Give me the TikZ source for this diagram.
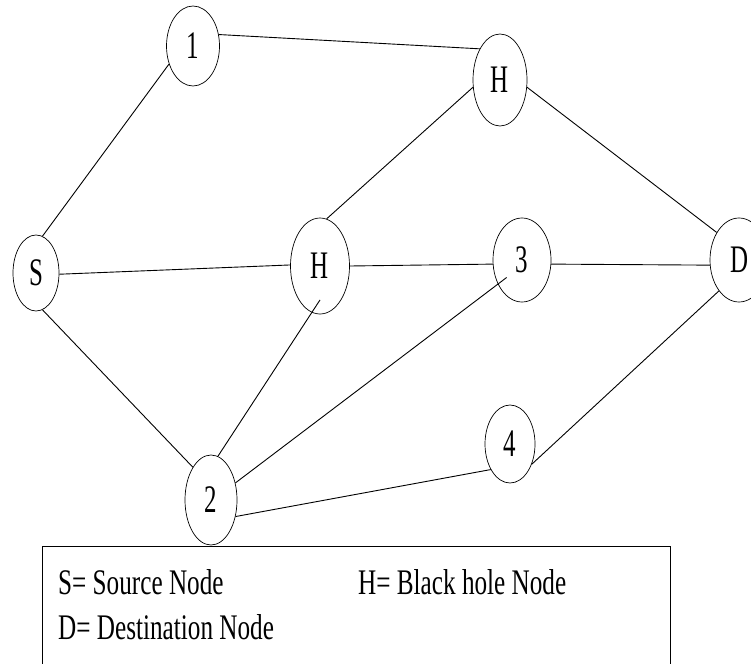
\documentclass[tikz,border=0pt]{standalone}
\usepackage{fontspec}
\setmainfont{Liberation Serif}[FakeStretch=0.64]
\newfontfamily\legfont{Liberation Serif}[FakeStretch=0.7]
\usetikzlibrary{shapes.geometric}
\tikzset{
  nd/.style={ellipse, draw, line width=0.7pt, inner sep=0pt, font=\fontsize{39}{39}\selectfont},
  edge/.style={line width=0.9pt},
  legtext/.style={anchor=west, inner sep=0pt, font=\legfont\fontsize{36}{36}\selectfont}
}
\begin{document}
\begin{tikzpicture}[x=1pt,y=-1pt]
\clip (0,0) rectangle (751,663);
\node[nd, minimum width=53pt, minimum height=80pt] (n1) at (193,46) {1};
\node[nd, minimum width=54pt, minimum height=92pt] (Ht) at (500,80) {H};
\node[nd, minimum width=46pt, minimum height=76pt] (S) at (36,273) {S};
\node[nd, minimum width=59pt, minimum height=96pt] (Hm) at (320,266) {H};
\node[nd, minimum width=58pt, minimum height=84pt] (n3) at (522,260) {3};
\node[nd, minimum width=58pt, minimum height=84pt] (D) at (739,260) {D};
\node[nd, minimum width=50pt, minimum height=78pt] (n4) at (510,444) {4};
\node[nd, minimum width=52pt, minimum height=90pt] (n2) at (211,500) {2};
\draw[edge] (n1.24) -- (Ht.123);
\draw[edge] (S.80) -- (n1.217);
\draw[edge] (S.-3) -- (Hm.178);
\draw[edge] (S.-80) -- (n2.119);
\draw[edge, shorten >=-15pt] (n2.81) -- (Hm.260);
\draw[edge, shorten >=-11pt] (n2.35) -- (n3.225);
\draw[edge] (n2.-34) -- (n4.233);
\draw[edge] (Hm.82) -- (Ht.195);
\draw[edge] (Hm.0) -- (n3.188);
\draw[edge] (n3.-8) -- (D.190);
\draw[edge] (Ht.-15) -- (D.129);
\draw[edge] (n4.-43) -- (D.237);
\node[draw, line width=1pt, anchor=north west, minimum width=628pt, minimum height=160pt, inner sep=0pt] (legend) at (42,546) {};
\node[legtext] (lS) at (58,582) {S= Source Node};
\node[legtext] (lH) at (358,582) {H= Black hole Node};
\node[legtext] (lD) at (58,627) {D= Destination Node};
\end{tikzpicture}
\end{document}
